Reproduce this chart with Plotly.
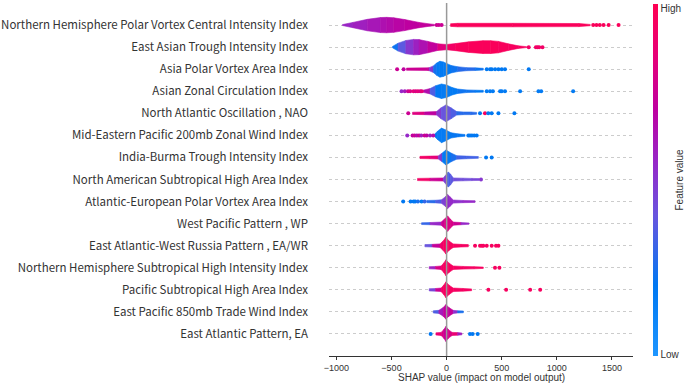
import plotly.graph_objects as go
from plotly.colors import sample_colorscale

features = [
    "Northern Hemisphere Polar Vortex Central Intensity Index",
    "East Asian Trough Intensity Index",
    "Asia Polar Vortex Area Index",
    "Asian Zonal Circulation Index",
    "North Atlantic Oscillation , NAO",
    "Mid-Eastern Pacific 200mb Zonal Wind Index",
    "India-Burma Trough Intensity Index",
    "North American Subtropical High Area Index",
    "Atlantic-European Polar Vortex Area Index",
    "West Pacific Pattern , WP",
    "East Atlantic-West Russia Pattern , EA/WR",
    "Northern Hemisphere Subtropical High Intensity Index",
    "Pacific Subtropical High Area Index",
    "East Pacific 850mb Trade Wind Index",
    "East Atlantic Pattern, EA",
]

x_ticks = [-1000, -500, 0, 500, 1000, 1500]

# violin body outlines: SHAP value knots, half-width (row units), feature-value colour (0=low,1=high)
violin_x = [
    [-945, -850, -720, -600, -545, -480, -380, -250, -150, -110],
    [-491, -440, -370, -300, -250, -170, -80, 0, 80, 200, 330, 400, 470, 560, 650, 727],
    [-364, -170, -158, -120, -90, -61, -30, 0, 40, 100, 182, 260, 333],
    [-212, -150, -100, -46, 0, 50, 100, 182, 260, 333],
    [-309, -200, -91, -50, -6, 40, 91, 150, 220, 273],
    [-110, -80, -46, -10, 40, 100, 167],
    [-242, -150, -76, -40, -6, 40, 91, 180, 288],
    [-264, -150, -30, 0, 15, 35, 61, 150, 230, 297],
    [-180, -100, -46, -10, 9, 30, 61, 150, 258],
    [-227, -150, -50, -20, 9, 35, 61, 130, 203],
    [-197, -130, -60, -30, -6, 20, 60, 130, 197],
    [-158, -100, -50, -25, -6, 20, 60, 150, 250, 333],
    [-158, -100, -50, -25, -6, 20, 60, 150, 227],
    [-121, -70, -30, -6, 20, 60, 100, 152],
    [-97, -50, -25, -6, 15, 50, 100, 139],
]
violin_h = [
    [0.02, 0.12, 0.26, 0.34, 0.35, 0.33, 0.25, 0.12, 0.05, 0.03],
    [0.03, 0.18, 0.30, 0.35, 0.34, 0.26, 0.15, 0.12, 0.16, 0.24, 0.29, 0.29, 0.26, 0.15, 0.06, 0.02],
    [0.05, 0.06, 0.07, 0.15, 0.28, 0.36, 0.33, 0.26, 0.17, 0.11, 0.07, 0.06, 0.04],
    [0.05, 0.12, 0.25, 0.33, 0.28, 0.17, 0.10, 0.06, 0.05, 0.04],
    [0.05, 0.06, 0.08, 0.25, 0.38, 0.25, 0.08, 0.06, 0.06, 0.04],
    [0.05, 0.20, 0.33, 0.25, 0.12, 0.07, 0.04],
    [0.05, 0.06, 0.07, 0.20, 0.34, 0.20, 0.08, 0.06, 0.04],
    [0.05, 0.06, 0.07, 0.25, 0.34, 0.25, 0.07, 0.06, 0.05, 0.04],
    [0.05, 0.06, 0.08, 0.22, 0.32, 0.22, 0.07, 0.05, 0.04],
    [0.04, 0.05, 0.07, 0.20, 0.35, 0.20, 0.07, 0.05, 0.03],
    [0.05, 0.06, 0.08, 0.22, 0.38, 0.22, 0.08, 0.06, 0.05],
    [0.05, 0.06, 0.08, 0.22, 0.36, 0.22, 0.08, 0.06, 0.05, 0.03],
    [0.05, 0.06, 0.08, 0.22, 0.36, 0.22, 0.08, 0.06, 0.04],
    [0.05, 0.07, 0.20, 0.33, 0.20, 0.07, 0.05, 0.04],
    [0.05, 0.07, 0.20, 0.34, 0.20, 0.07, 0.06, 0.04],
]
violin_c = [
    [0.55, 0.57, 0.60, 0.63, 0.65, 0.67, 0.69, 0.71, 0.72, 0.72],
    [0.15, 0.30, 0.45, 0.55, 0.60, 0.67, 0.76, 0.90, 0.95, 0.97, 0.97, 0.97, 0.97, 0.95, 0.95, 0.95],
    [0.75, 0.75, 0.70, 0.30, 0.18, 0.18, 0.18, 0.18, 0.20, 0.25, 0.30, 0.25, 0.20],
    [0.80, 0.50, 0.20, 0.17, 0.17, 0.17, 0.20, 0.25, 0.20, 0.20],
    [0.85, 0.80, 0.60, 0.40, 0.40, 0.40, 0.30, 0.25, 0.30, 0.25],
    [0.20, 0.18, 0.17, 0.17, 0.20, 0.22, 0.20],
    [0.95, 0.90, 0.80, 0.20, 0.18, 0.20, 0.30, 0.35, 0.30],
    [0.95, 0.90, 0.60, 0.35, 0.33, 0.35, 0.40, 0.45, 0.40, 0.50],
    [0.25, 0.30, 0.40, 0.52, 0.54, 0.54, 0.55, 0.50, 0.60],
    [0.20, 0.40, 0.70, 0.80, 0.82, 0.80, 0.80, 0.70, 0.40],
    [0.20, 0.60, 0.85, 0.95, 0.95, 0.95, 0.95, 0.93, 0.95],
    [0.45, 0.70, 0.90, 0.95, 0.95, 0.95, 0.95, 0.93, 0.95, 0.95],
    [0.30, 0.60, 0.90, 0.95, 0.95, 0.95, 0.95, 0.93, 0.95],
    [0.20, 0.50, 0.70, 0.72, 0.70, 0.75, 0.30, 0.20],
    [0.90, 0.85, 0.75, 0.72, 0.75, 0.85, 0.90, 0.30],
]

# dense red band of the first feature (right of zero)
band_x = [36, 100, 600, 1200, 1303]
band_h = [0.06, 0.08, 0.08, 0.07, 0.03]
band_c = [0.97, 0.97, 0.97, 0.97, 0.97]

# individual outlying points
dot_x = [
    [-90, -70, -45, 1330, 1360, 1390, 1424, 1470, 1560],
    [745, 810, 825, 840, 870],
    [-449, -390, 364, 394, 410, 440, 470, 500, 530, 745],
    [-409, -379, -350, -330, -300, -280, -260, -240, -225, 364, 394, 420, 485, 500, 530, 667, 833, 858, 1148],
    [-348, 303, 348, 378, 409, 470, 615],
    [-357, -309, -290, -270, -250, -230, -200, -180, -150, -121, 197, 212, 230, 250, 273],
    [358, 409],
    [312],
    [-394, -327, -300, -285, -260, -227, -200],
    [],
    [258, 303, 320, 333, 364, 409, 448, 470],
    [439, 479],
    [379, 540, 758, 849],
    [],
    [-145, 212, 236, 282],
]
dot_c = [
    [0.75, 0.75, 0.75, 0.97, 0.97, 0.97, 0.97, 0.97, 0.97],
    [0.92, 0.92, 0.92, 0.92, 0.92],
    [0.75, 0.70, 0.20, 0.20, 0.20, 0.20, 0.20, 0.20, 0.20, 0.20],
    [0.55, 0.60, 0.75, 0.80, 0.85, 0.80, 0.85, 0.80, 0.85, 0.18, 0.18, 0.18, 0.18, 0.18, 0.18, 0.18, 0.18, 0.18, 0.18],
    [0.75, 0.20, 0.95, 0.20, 0.20, 0.20, 0.20],
    [0.55, 0.70, 0.75, 0.65, 0.75, 0.60, 0.75, 0.70, 0.60, 0.65, 0.20, 0.20, 0.20, 0.20, 0.20],
    [0.20, 0.20],
    [0.50],
    [0.20, 0.20, 0.20, 0.20, 0.25, 0.20, 0.30],
    [],
    [0.95, 0.95, 0.95, 0.95, 0.95, 0.95, 0.95, 0.95],
    [0.95, 0.95],
    [0.95, 0.95, 0.95, 0.95],
    [],
    [0.20, 0.20, 0.20, 0.20],
]

COLORSCALE = [
    [0.0, "rgb(30,150,255)"],
    [0.2, "rgb(0,120,242)"],
    [0.4, "rgb(105,85,222)"],
    [0.55, "rgb(150,40,200)"],
    [0.7, "rgb(190,0,160)"],
    [0.85, "rgb(230,0,120)"],
    [1.0, "rgb(255,0,82)"],
]

FONT = "Noto Sans CJK SC"
AXFONT = "Liberation Sans"
n = len(features)
fig = go.Figure()


def add_body(xs, hs, cs, yc):
    for k in range(len(xs) - 1):
        col = sample_colorscale(COLORSCALE, [(cs[k] + cs[k + 1]) / 2])[0]
        fig.add_trace(go.Scatter(
            x=[xs[k], xs[k + 1], xs[k + 1], xs[k], xs[k]],
            y=[yc + hs[k], yc + hs[k + 1], yc - hs[k + 1], yc - hs[k], yc + hs[k]],
            mode="lines", fill="toself", fillcolor=col,
            line=dict(color=col, width=0.6),
            hoverinfo="skip", showlegend=False))


for i in range(n):
    yc = n - 1 - i
    add_body(violin_x[i], violin_h[i], violin_c[i], yc)
    if i == 0:
        add_body(band_x, band_h, band_c, yc)
    if dot_x[i]:
        fig.add_trace(go.Scatter(
            x=dot_x[i], y=[yc] * len(dot_x[i]), mode="markers",
            marker=dict(size=4, color=dot_c[i], colorscale=COLORSCALE, cmin=0, cmax=1,
                        line=dict(width=0)),
            hoverinfo="skip", showlegend=False))

# colour bar
fig.add_trace(go.Scatter(
    x=[None], y=[None], mode="markers", showlegend=False, hoverinfo="skip",
    marker=dict(color=[0, 1], colorscale=COLORSCALE, cmin=0, cmax=1, showscale=True,
                colorbar=dict(thickness=5, thicknessmode="pixels", len=352, lenmode="pixels",
                              x=1.066, xanchor="left", xpad=0, ypad=0,
                              y=0.5, yanchor="middle",
                              outlinewidth=0, tickvals=[0.003, 0.985], ticktext=["Low", "High"],
                              ticks="", ticklabeloverflow="allow",
                              tickfont=dict(family=AXFONT, size=10, color="#333333"))),
))

fig.add_vline(x=0, line=dict(color="#999999", width=1.5))

fig.add_annotation(text="Feature value", xref="paper", yref="paper", x=1.1546, y=0.5,
                   xanchor="center", yanchor="middle",
                   textangle=-90, showarrow=False,
                   font=dict(family=AXFONT, size=10, color="#333333"))

fig.add_annotation(text="SHAP value (impact on model output)", xref="paper", yref="paper",
                   x=0.5, y=-0.0623, xanchor="center", yanchor="middle", showarrow=False,
                   font=dict(family=AXFONT, size=10, color="#333333"))

fig.update_layout(
    width=685, height=383,
    margin=dict(l=329, r=52, t=3, b=27, autoexpand=False),
    paper_bgcolor="white", plot_bgcolor="white",
    font=dict(family=FONT, color="#333333"),
    xaxis=dict(range=[-1067, 1691], tickvals=x_ticks,
               ticktext=[f"{v}".replace("-", "\u2212") for v in x_ticks],
               showline=True, linecolor="#333333", linewidth=1,
               ticks="outside", ticklen=3, tickcolor="#333333",
               showgrid=False, zeroline=False, automargin=False,
               tickfont=dict(family=AXFONT, size=9, color="#333333")),
    yaxis=dict(range=[-1, 15], tickvals=list(range(n)), ticktext=features[::-1],
               showline=False, zeroline=False, showgrid=True, griddash="dot",
               gridcolor="#cccccc", gridwidth=1, ticks="", ticklabelstandoff=20,
               automargin=False,
               tickfont=dict(family=FONT, size=11.5, color="#333333")),
)

fig.write_html("out.html", config={"displayModeBar": False},
               post_script="document.body.style.margin='0px';")
